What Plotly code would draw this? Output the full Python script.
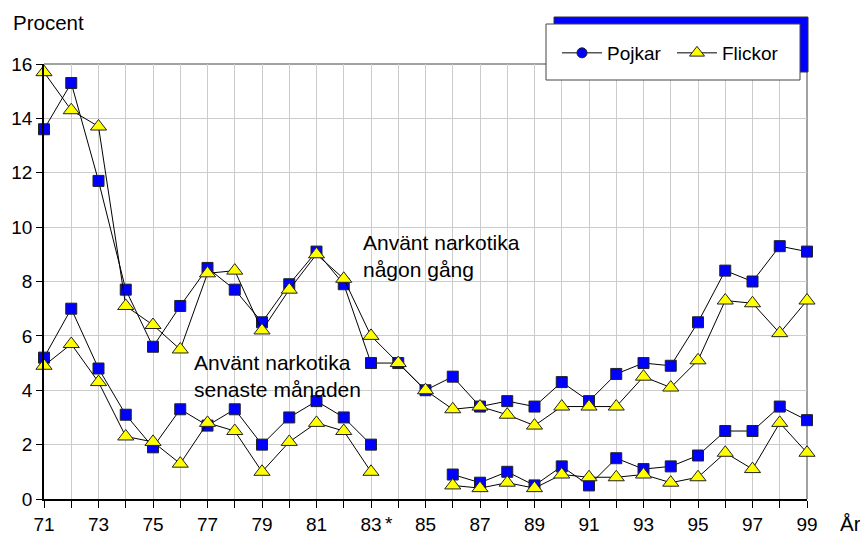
import plotly.graph_objects as go

years = list(range(71, 100))
# "Använt narkotika någon gång"
pojkar_ever = [13.6, 15.3, 11.7, 7.7, 5.6, 7.1, 8.5, 7.7, 6.5, 7.9, 9.1, 7.9, 5.0, 5.0,
               4.0, 4.5, 3.4, 3.6, 3.4, 4.3, 3.6, 4.6, 5.0, 4.9, 6.5, 8.4, 8.0, 9.3, 9.1]
flickor_ever = [15.7, 14.3, 13.7, 7.1, 6.4, 5.5, 8.3, 8.4, 6.2, 7.7, 9.0, 8.1, 6.0, 5.0,
                4.0, 3.3, 3.4, 3.1, 2.7, 3.4, 3.4, 3.4, 4.5, 4.1, 5.1, 7.3, 7.2, 6.1, 7.3]
# "Använt narkotika senaste månaden" (no data 84-85)
pojkar_month = [5.2, 7.0, 4.8, 3.1, 1.9, 3.3, 2.7, 3.3, 2.0, 3.0, 3.6, 3.0, 2.0, None,
                None, 0.9, 0.6, 1.0, 0.5, 1.2, 0.5, 1.5, 1.1, 1.2, 1.6, 2.5, 2.5, 3.4, 2.9]
flickor_month = [4.9, 5.7, 4.3, 2.3, 2.1, 1.3, 2.8, 2.5, 1.0, 2.1, 2.8, 2.5, 1.0, None,
                 None, 0.5, 0.4, 0.6, 0.4, 0.9, 0.8, 0.8, 0.9, 0.6, 0.8, 1.7, 1.1, 2.8, 1.7]
tick_labels = [str(y) if y % 2 == 1 else "" for y in years]

BLUE = "#0000FF"
YELLOW = "#FFFF00"
FONT = "Arial, Liberation Sans, sans-serif"

fig = go.Figure()

def add_series(y, symbol, color, size):
    fig.add_trace(go.Scatter(
        x=years, y=y, mode="lines+markers", showlegend=False, cliponaxis=False,
        connectgaps=False,
        line=dict(color="black", width=1),
        marker=dict(symbol=symbol, size=size, color=color,
                    line=dict(color="#222222", width=1)),
    ))

add_series(pojkar_ever, "square", BLUE, 11)
add_series(pojkar_month, "square", BLUE, 11)
add_series(flickor_ever, "triangle-up", YELLOW, 14)
add_series(flickor_month, "triangle-up", YELLOW, 14)

# legend entries
fig.add_trace(go.Scatter(x=[None], y=[None], mode="lines+markers", name="Pojkar",
                         line=dict(color="black", width=1),
                         marker=dict(symbol="circle", size=10, color=BLUE,
                                     line=dict(color="#222222", width=1))))
fig.add_trace(go.Scatter(x=[None], y=[None], mode="lines+markers", name="Flickor",
                         line=dict(color="black", width=1),
                         marker=dict(symbol="triangle-up", size=13, color=YELLOW,
                                     line=dict(color="#222222", width=1))))

# page body has an 8px margin; figure sized so plot lands at reference pixels
OFF = 8
W, H = 868 - OFF, 534 - OFF
L, T = 44 - OFF, 64 - OFF
R, B = 868 - 807, 534 - 499
pw, ph = W - L - R, H - T - B

def px(xp):
    return (xp - 44) / pw

def py(yp):
    return 1 - (yp - 64) / ph

def xd(xp):
    return 71 + (xp - 44) / pw * 28

def yd(yp):
    return (499 - yp) / ph * 16

shapes = [
    # legend shadow
    dict(type="rect", xref="paper", yref="paper", x0=px(554), x1=px(808), y0=py(72), y1=py(17),
         fillcolor=BLUE, line=dict(color="#333333", width=1), layer="above"),
    # legend box
    dict(type="rect", xref="paper", yref="paper", x0=px(546), x1=px(800), y0=py(80), y1=py(24),
         fillcolor="white", line=dict(color="#444444", width=1), layer="above"),
    # top & right frame
    dict(type="path", xref="paper", yref="paper", path="M 0,1 L 1,1 L 1,0",
         line=dict(color="#444444", width=1), layer="below"),
    # white label backgrounds (hide grid, stay under the data)
    dict(type="rect", xref="paper", yref="paper", x0=px(359), x1=px(563), y0=py(279), y1=py(232),
         fillcolor="white", line=dict(width=0), layer="between"),
    dict(type="rect", xref="paper", yref="paper", x0=px(190), x1=px(362), y0=py(397), y1=py(352),
         fillcolor="white", line=dict(width=0), layer="between"),
]

annotations = [
    dict(text="Procent", xref="paper", yref="paper", x=px(11), y=py(23), xanchor="left",
         yanchor="middle", showarrow=False, font=dict(size=20.5, color="black", family=FONT)),
    dict(text="År", xref="paper", yref="paper", x=px(839), y=py(523), xanchor="left",
         yanchor="middle", showarrow=False, borderpad=0,
         font=dict(size=20.5, color="black", family=FONT)),
    dict(text="*", xref="x", yref="paper", x=83, xshift=18, y=py(523), xanchor="center",
         yanchor="middle", showarrow=False, font=dict(size=19, color="black", family=FONT)),
]
for txt, xp, yp in [("Använt narkotika<br>någon gång", 362, 256),
                    ("Använt narkotika<br>senaste månaden", 193, 376)]:
    annotations.append(dict(text=txt, x=xd(xp), y=yd(yp), xanchor="left", yanchor="middle",
                            align="left", showarrow=False, borderpad=0,
                            font=dict(size=21, color="black", family=FONT)))

fig.update_layout(
    width=W, height=H, margin=dict(l=L, r=R, t=T, b=B, autoexpand=False),
    paper_bgcolor="white", plot_bgcolor="white",
    font=dict(family=FONT, color="black", size=18),
    shapes=shapes, annotations=annotations,
    legend=dict(orientation="h", x=px(557), y=py(53), xanchor="left", yanchor="middle",
                bgcolor="rgba(0,0,0,0)", borderwidth=0, entrywidth=60, itemwidth=40,
                font=dict(size=19, color="black", family=FONT)),
    xaxis=dict(range=[71, 99], tickvals=years, ticktext=tick_labels,
               showgrid=True, gridcolor="#cccccc", gridwidth=1,
               showline=True, linecolor="black", linewidth=1.5,
               ticks="outside", ticklen=7, tickcolor="black", tickwidth=1,
               zeroline=False, tickfont=dict(size=19)),
    yaxis=dict(range=[0, 16], tickvals=list(range(0, 17, 2)),
               showgrid=True, gridcolor="#cccccc", gridwidth=1,
               showline=True, linecolor="black", linewidth=1.5,
               ticks="outside", ticklen=6, tickcolor="black", tickwidth=1,
               zeroline=False, tickfont=dict(size=19)),
)

fig.write_html("out.html")
